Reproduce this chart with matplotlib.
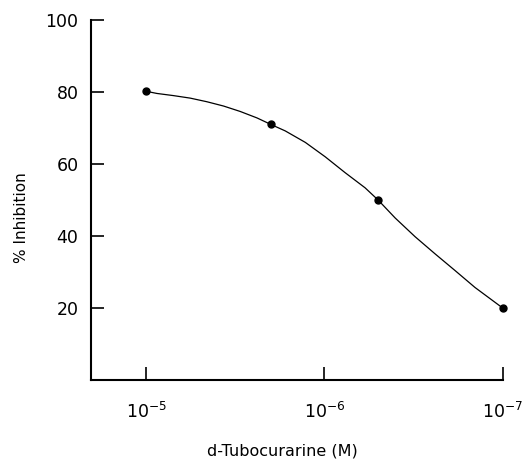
import matplotlib
matplotlib.use('Agg')
import matplotlib.pyplot as plt

plt.rcParams['font.family'] = ['DejaVu Sans']
plt.rcParams['mathtext.fontset'] = 'dejavusans'

# measured points
conc = [1e-5, 2e-6, 5e-7, 1e-7]
inhib = [80.2, 71.0, 50.0, 20.0]

# drawn curve
curve_conc = [1e-5, 8.71e-6, 7.03e-6, 5.66e-6, 4.57e-6, 3.68e-6, 2.97e-6,
              2.39e-6, 2e-6, 1.66e-6, 1.28e-6, 9.9e-7, 7.66e-7, 5.92e-7,
              5e-7, 4.01e-7, 3.10e-7, 2.39e-7, 1.85e-7, 1.43e-7, 1e-7]
curve_inhib = [80.2, 79.6, 79.0, 78.3, 77.3, 76.1, 74.6,
               72.8, 71.0, 69.2, 66.0, 62.0, 57.6, 53.4,
               50.0, 45.0, 39.8, 35.0, 30.4, 25.7, 20.0]

xticks = [1e-5, 1e-6, 1e-7]
xticklabels = [r'$10^{-5}$', r'$10^{-6}$', r'$10^{-7}$']
yticks = [20, 40, 60, 80, 100]

fig = plt.figure(figsize=(5.26, 4.61), dpi=100)
ax = fig.add_axes([0.173, 0.1757, 0.7827, 0.7809])

ax.plot(curve_conc, curve_inhib, color='black', lw=0.9, clip_on=False)
ax.plot(conc, inhib, 'o', color='black', ms=5, clip_on=False)

ax.set_xscale('log')
ax.set_xlim(2.04e-5, 1e-7)
ax.set_ylim(0, 100)

ax.set_xticks(xticks)
ax.set_xticklabels(xticklabels)
ax.xaxis.set_minor_locator(matplotlib.ticker.NullLocator())
ax.set_yticks(yticks)

ax.spines['top'].set_visible(False)
ax.spines['right'].set_visible(False)
for s in ['left', 'bottom']:
    ax.spines[s].set_linewidth(1.5)

ax.tick_params(axis='y', direction='in', length=9.5, width=1.2, pad=9, labelsize=12.5)
ax.tick_params(axis='x', direction='in', length=9.5, width=1.2, pad=16, labelsize=12.5)

ax.set_xlabel('d-Tubocurarine (M)', fontsize=11.5)
ax.xaxis.set_label_coords(0.466, -0.175)
ax.set_ylabel('% Inhibition', fontsize=11)
ax.yaxis.set_label_coords(-0.15, 0.45)

plt.savefig('out.png', dpi=100)
